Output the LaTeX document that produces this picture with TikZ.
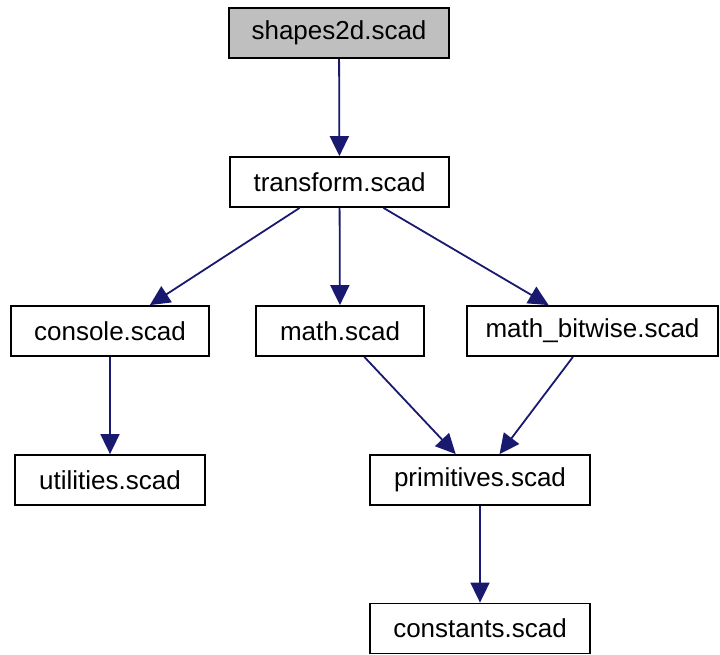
\documentclass[tikz,border=0pt]{standalone}
\usepackage{fontspec}
\setmainfont{Liberation Sans}
\usepackage{tikz}
\usetikzlibrary{arrows.meta}
\definecolor{edgeblue}{HTML}{191970}
\definecolor{rootgray}{HTML}{BFBFBF}

\begin{document}
\begin{tikzpicture}[
  x=1pt, y=-1pt,
  font=\fontsize{26}{31}\selectfont,
  file/.style ={draw, line width=1.8pt, fill=white, minimum height=50pt, inner sep=0pt},
  root/.style ={file, fill=rootgray},
  arr/.style  ={-{Triangle[length=20pt,width=19pt]}, line width=1.8pt, draw=edgeblue, fill=edgeblue}
]
\useasboundingbox (0,0) rectangle (720,654);
\node[root, minimum width=220pt] (shapes)    at (339,33)    {shapes2d.scad};
\node[file, minimum width=219pt] (transform) at (339.5,182) {transform.scad};
\node[file, minimum width=198pt] (console)   at (110,331)   {console.scad};
\node[file, minimum width=168pt] (math)      at (340,331)   {math.scad};
\node[file, minimum width=251pt] (bitwise)   at (592.5,331) {math\_bitwise.scad};
\node[file, minimum width=190pt] (util)      at (110,480)   {utilities.scad};
\node[file, minimum width=220pt] (prim)      at (480,480)   {primitives.scad};
\node[file, minimum width=220pt] (const)     at (480,628.5) {constants.scad};
\draw[arr] (shapes) -- (transform);
\draw[arr] (transform) -- (console); \draw[arr] (transform) -- (math); \draw[arr] (transform) -- (bitwise);
\draw[arr] (console) -- (util);
\draw[arr] (math) -- (prim); \draw[arr] (bitwise) -- (prim);
\draw[arr] (prim) -- (const);
\end{tikzpicture}
\end{document}
